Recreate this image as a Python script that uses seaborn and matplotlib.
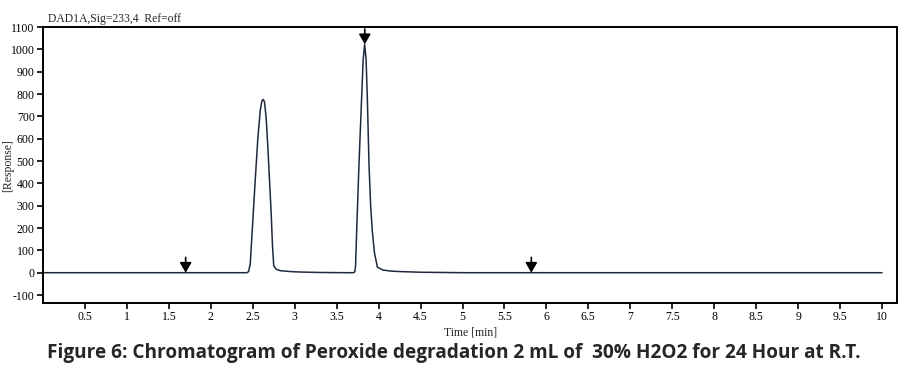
import numpy as np
import pandas as pd
import seaborn as sns
import matplotlib.pyplot as plt

# trace (time in min, response)
time = [0.0, 1.0, 2.0, 2.40, 2.43, 2.45, 2.47, 2.50, 2.53, 2.56, 2.59, 2.61, 2.625,
        2.64, 2.66, 2.68, 2.70, 2.72, 2.735, 2.75, 2.78, 2.83, 2.95, 3.06, 3.3,
        3.6, 3.70, 3.715, 3.725, 3.738, 3.766, 3.798, 3.815, 3.833, 3.85, 3.865,
        3.885, 3.905, 3.925, 3.95, 3.985, 4.05, 4.15, 4.26, 4.5, 5.0, 6.0, 7.0,
        8.0, 9.0, 10.0]
response = [0, 0, 0, 0, 0, 5, 40, 230, 420, 600, 730, 770, 776,
            765, 690, 560, 410, 260, 120, 30, 15, 9, 5, 3, 1,
            0, 0, 3, 30, 185, 487, 789, 950, 1023, 960, 789,
            487, 300, 185, 90, 25, 12, 7, 5, 2, 0, 0, 0,
            0, 0, 0]

# integration marks
mark_t = [1.70, 3.835, 5.82]
mark_y = [0, 1023, 0]

xticks = [0.5, 1, 1.5, 2, 2.5, 3, 3.5, 4, 4.5, 5, 5.5, 6, 6.5, 7, 7.5, 8, 8.5, 9, 9.5, 10]
yticks = [-100, 0, 100, 200, 300, 400, 500, 600, 700, 800, 900, 1000, 1100]

df = pd.DataFrame({'Time': time, 'Response': response})

sns.set_style('white')
plt.rcParams['font.family'] = ['Liberation Serif', 'DejaVu Serif']
plt.rcParams['axes.unicode_minus'] = False

fig = plt.figure(figsize=(9.08, 3.76), dpi=100)
ax = fig.add_axes([0.0474, 0.194, 0.9406, 0.734])

sns.lineplot(data=df, x='Time', y='Response', estimator=None, color='#1e2a3c',
             linewidth=1.1, ax=ax)

for t, y in zip(mark_t, mark_y):
    ax.annotate('', xy=(t, y), xytext=(0, 11), textcoords='offset points',
                arrowprops=dict(arrowstyle='-|>,head_width=0.35,head_length=0.6',
                                color='black', lw=1.2, shrinkA=0, shrinkB=0))

ax.set_xlim(0, 10.18)
ax.set_ylim(-136, 1100)
ax.set_xticks(xticks)
ax.set_xticklabels([('%g' % v) for v in xticks])
ax.set_yticks(yticks)
ax.tick_params(direction='out', length=4, width=1.2, labelsize=8.5, pad=2,
               bottom=True, left=True, colors='black')
for s in ax.spines.values():
    s.set_color('black')
    s.set_linewidth(1.4)

ax.set_xlabel('Time [min]', fontsize=8.5, labelpad=2)
ax.set_ylabel('[Response]', fontsize=8.5)
ax.yaxis.set_label_coords(-0.034, 0.5)
ax.set_title('DAD1A,Sig=233,4  Ref=off', fontsize=8.4, loc='left', x=0.006, pad=4)

fig.text(0.5, 0.061, 'Figure 6: Chromatogram of Peroxide degradation 2 mL of  30% H2O2 for 24 Hour at R.T.',
         ha='center', va='center', fontsize=13.7, fontweight='bold', family=['Open Sans', 'DejaVu Sans'])

fig.savefig('out.png', dpi=100)
